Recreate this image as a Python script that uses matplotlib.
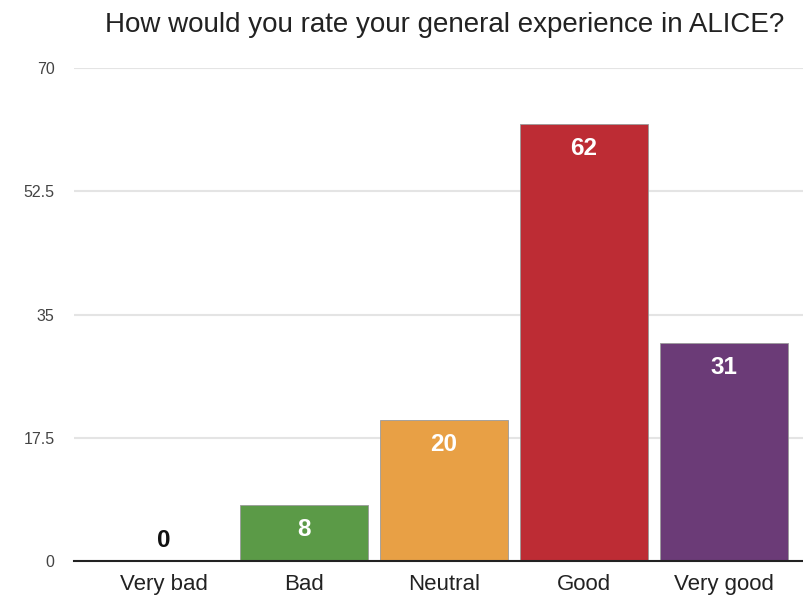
import matplotlib
matplotlib.use("Agg")
import matplotlib.pyplot as plt

categories = ["Very bad", "Bad", "Neutral", "Good", "Very good"]
values = [0, 8, 20, 62, 31]
colors = ["#cccccc", "#5b9a47", "#e8a045", "#bd2c34", "#6b3b77"]
yticks = [0, 17.5, 35, 52.5, 70]
ytick_labels = ["0", "17.5", "35", "52.5", "70"]
title = "How would you rate your general experience in ALICE?"

plt.rcParams['font.family'] = ['Liberation Sans', 'DejaVu Sans']

fig = plt.figure(figsize=(8.04, 5.97), dpi=100)
ax = fig.add_axes([0.092, 0.0603, 0.908, 0.8257])

x = list(range(len(categories)))
ax.bar(x, values, width=0.91, color=colors, edgecolor="#9a9a9a", linewidth=0.6, zorder=3)

for xi, v in zip(x, values):
    if v == 0:
        ax.annotate(str(v), (xi, 0), xytext=(0, 9), textcoords="offset pixels",
                    ha="center", va="bottom", fontsize=17.5, fontweight="bold", color="#111111", zorder=4)
    else:
        ax.annotate(str(v), (xi, v), xytext=(0, -13), textcoords="offset pixels",
                    ha="center", va="top", fontsize=17.5, fontweight="bold", color="white", zorder=4)

ax.set_xlim(-0.64, 4.57)
ax.set_ylim(0, 70)
ax.set_yticks(yticks)
ax.set_yticklabels(ytick_labels, fontsize=11.5, color="#444444")
ax.set_xticks(x)
ax.set_xticklabels(categories, fontsize=16, color="#222222")
ax.tick_params(axis="both", length=0)
ax.tick_params(axis="y", pad=14)
ax.tick_params(axis="x", pad=9)
ax.grid(axis="y", color="#e4e4e4", linewidth=1.5, zorder=0)
for s in ["top", "right", "left"]:
    ax.spines[s].set_visible(False)
ax.spines["bottom"].set_color("#222222")
ax.spines["bottom"].set_linewidth(1.5)
ax.spines["bottom"].set_zorder(5)

fig.text(445 / 804, 1 - 25 / 597, title, ha="center", va="center", fontsize=20, color="#222222")

fig.savefig("out.png", dpi=100)
